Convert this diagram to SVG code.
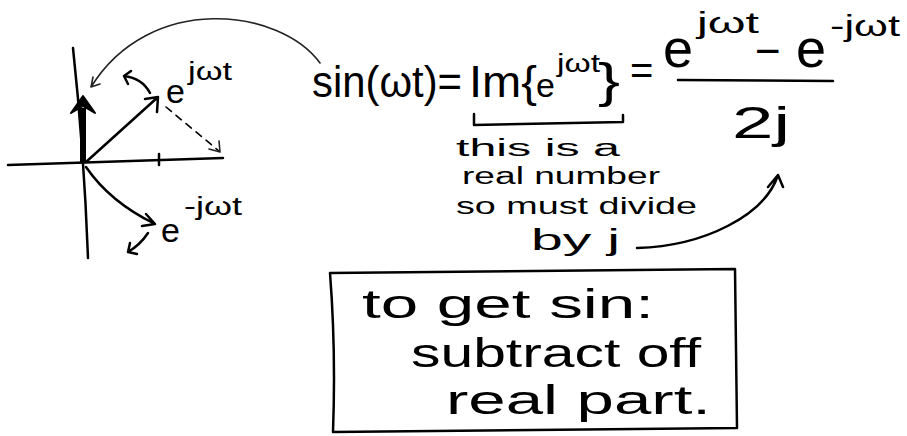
<svg xmlns="http://www.w3.org/2000/svg" width="907" height="436" viewBox="0 0 907 436">
<style>
.ink{fill:none;stroke:#000;stroke-width:2.5;stroke-linecap:round;stroke-linejoin:round}
.thin{fill:none;stroke:#222;stroke-width:1.6;stroke-linecap:round;stroke-linejoin:round}
.dash{fill:none;stroke:#000;stroke-width:1.6;stroke-dasharray:7 6;stroke-linecap:round}
text{font-family:"Liberation Sans","DejaVu Sans",sans-serif;fill:#000}
</style>
<rect width="907" height="436" fill="#fff"/>
<g id="axes">
<path class="ink" d="M73,48 Q84,150 88,258"/>
<path class="ink" d="M8,165 L223,158"/>
<path class="ink" d="M159,154 L159,165"/>
</g>
<g id="connectors">
<path d="M83,163 L83,108" stroke="#000" stroke-width="6" fill="none"/>
<path d="M71,113 L83,96 L95,113 L83,106 Z" fill="#000" stroke="#000" stroke-width="2" stroke-linejoin="round"/>
<path class="ink" d="M86,162 L158,97 M145,99 L158,97 L157,112"/>
<path class="dash" d="M166,107 L219,151"/>
<path class="thin" d="M209,149 L220,152 L219,141"/>
<path class="ink" d="M150,93 Q142,78 124,76 M131,71 L124,76 L128,84"/>
<path class="ink" d="M86,167 Q110,202 155,224 M146,214 L155,224 L142,226"/>
<path class="ink" d="M148,233 Q140,245 128,252 M130,243 L128,252 L137,254"/>
<path class="thin" d="M320,63 C280,8 150,-8 91,87 M93,77 L91,87 L100,84"/>
<path class="ink" d="M637,248 C705,246 765,215 778,175 M768,187 L778,175 L783,187"/>
<path class="ink" d="M474,114 L474,125 L623,122 L623,115"/>
</g>
<g id="phasor-labels">
<text x="166" y="103" font-size="34">e</text>
<text x="188" y="80" font-size="26" textLength="44" lengthAdjust="spacingAndGlyphs">jωt</text>
<text x="161" y="242" font-size="34">e</text>
<text x="184" y="215" font-size="26" textLength="58" lengthAdjust="spacingAndGlyphs">-jωt</text>
</g>
<g id="equation">
<text x="312" y="97" font-size="44" textLength="150" lengthAdjust="spacingAndGlyphs">sin(ωt)=</text>
<text x="469" y="97" font-size="44" textLength="68" lengthAdjust="spacingAndGlyphs">Im{</text>
<text x="536" y="97" font-size="34">e</text>
<text x="557" y="72" font-size="26" textLength="43" lengthAdjust="spacingAndGlyphs">jωt</text>
<text x="598" y="97" font-size="48" textLength="22" lengthAdjust="spacingAndGlyphs">}</text>
<text x="630" y="84" font-size="40">=</text>
<text x="663" y="67" font-size="54">e</text>
<text x="697" y="33" font-size="30" textLength="62" lengthAdjust="spacingAndGlyphs">jωt</text>
<text x="755" y="66" font-size="44">−</text>
<text x="796" y="67" font-size="54">e</text>
<text x="830" y="36" font-size="30" textLength="70" lengthAdjust="spacingAndGlyphs">-jωt</text>
<path class="ink" d="M678,80 L833,81"/>
<text x="732" y="138" font-size="44" textLength="58" lengthAdjust="spacingAndGlyphs">2j</text>
</g>
<g id="note">
<text x="456" y="156" font-size="23" textLength="164" lengthAdjust="spacingAndGlyphs">this is a</text>
<text x="462" y="184" font-size="23" textLength="198" lengthAdjust="spacingAndGlyphs">real number</text>
<text x="456" y="214" font-size="24" textLength="241" lengthAdjust="spacingAndGlyphs">so must divide</text>
<text x="531" y="250" font-size="30" textLength="89" lengthAdjust="spacingAndGlyphs">by j</text>
</g>
<g id="box">
<path class="ink" d="M330,273 L735,269 L737,428 L333,432 Q336,350 330,273 Z"/>
<text x="362" y="318" font-size="40" textLength="292" lengthAdjust="spacingAndGlyphs">to get sin:</text>
<text x="411" y="367" font-size="40" textLength="290" lengthAdjust="spacingAndGlyphs">subtract off</text>
<text x="446" y="414" font-size="40" textLength="265" lengthAdjust="spacingAndGlyphs">real part.</text>
</g>
</svg>
